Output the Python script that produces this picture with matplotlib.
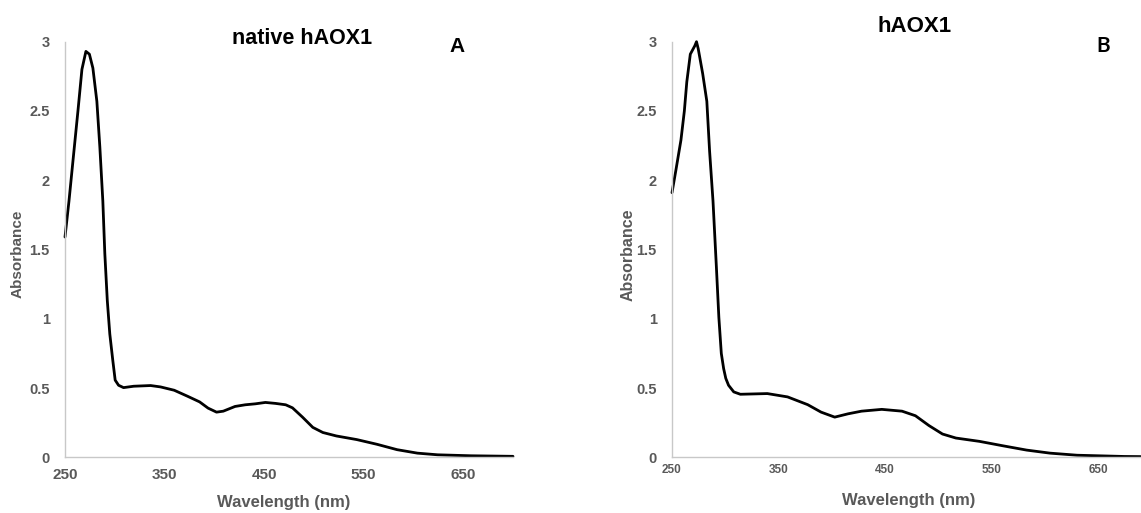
import numpy as np
import matplotlib
matplotlib.use("Agg")
import matplotlib.pyplot as plt

plt.rcParams['font.family'] = ['Liberation Sans', 'DejaVu Sans']

wl_native = [250, 254, 258, 263, 267, 271, 274.5, 278, 282, 285, 288, 290, 292.5, 295,
             298, 300.4, 303.8, 308.8, 319, 336, 346, 359.7, 373.3, 385.2, 393.7, 402.2,
             409, 420.8, 431, 441.2, 451.3, 461.5, 471.7, 478.5, 488.7, 498.9, 509,
             522.6, 543, 563.3, 583.6, 604, 624.3, 658, 700]
abs_native = [1.59, 1.85, 2.14, 2.50, 2.80, 2.93, 2.91, 2.81, 2.57, 2.24, 1.85, 1.47, 1.13, 0.89,
              0.70, 0.557, 0.52, 0.503, 0.513, 0.518, 0.508, 0.484, 0.44, 0.40, 0.355, 0.326,
              0.333, 0.367, 0.379, 0.386, 0.396, 0.389, 0.379, 0.357, 0.289, 0.216, 0.179,
              0.154, 0.128, 0.094, 0.055, 0.030, 0.018, 0.011, 0.007]

wl_haox = [250, 253.6, 258.4, 261.6, 263.9, 267.2, 271.4, 273, 274.6, 278.8, 282.7, 285.3,
           288.5, 291.7, 294, 296.3, 298.5, 300.5, 303.1, 308, 314.2, 339.5, 358.5, 377.4,
           390, 402.8, 415.4, 428, 447, 466, 478.6, 491.3, 504, 516.6, 538.7, 560.8,
           583, 605, 630.4, 674.6, 690]
abs_haox = [1.91, 2.07, 2.29, 2.50, 2.71, 2.91, 2.97, 3.0, 2.95, 2.77, 2.57, 2.21,
            1.85, 1.37, 1.01, 0.75, 0.64, 0.57, 0.52, 0.472, 0.455, 0.46, 0.436, 0.38,
            0.326, 0.29, 0.314, 0.333, 0.346, 0.333, 0.30, 0.229, 0.168, 0.139, 0.115, 0.083,
            0.052, 0.030, 0.015, 0.006, 0.005]

xticks = [250, 350, 450, 550, 650]
yticks = [0, 0.5, 1, 1.5, 2, 2.5, 3]
ytick_labels = ["0", "0.5", "1", "1.5", "2", "2.5", "3"]

W, H = 1141, 513
gris = '#595959'

fig = plt.figure(figsize=(W / 100, H / 100), dpi=100)


def px(x, y):
    return x / W, 1 - y / H


def panel(rect, wl, ab, xmax, xsize, xpad):
    ax = fig.add_axes(rect)
    ax.plot(wl, ab, color='black', lw=2.0, clip_on=False,
            solid_joinstyle='round', solid_capstyle='round')
    ax.set_xlim(250, xmax)
    ax.set_ylim(0, 3)
    ax.set_xticks(xticks)
    ax.set_yticks(yticks)
    ax.set_yticklabels(ytick_labels)
    for s in ['top', 'right']:
        ax.spines[s].set_visible(False)
    for s in ['left', 'bottom']:
        ax.spines[s].set_color('#c8c8c8')
        ax.spines[s].set_linewidth(1.0)
    ax.tick_params(axis='x', length=0, pad=xpad, labelsize=xsize, labelcolor=gris)
    ax.tick_params(axis='y', length=0, pad=11, labelsize=10.5, labelcolor=gris)
    for t in ax.get_xticklabels() + ax.get_yticklabels():
        t.set_fontweight('bold')
    return ax


axA = panel([65 / W, 1 - 457.3 / H, 448 / W, 415.6 / H],
            wl_native, abs_native, 700, 11, 8)
axB = panel([672 / W, 1 - 457.3 / H, 469 / W, 415.6 / H],
            wl_haox, abs_haox, 690.4, 8.5, 5)

# rotulos de los ejes
for (x, y) in [(284, 503), (909, 501)]:
    fig.text(*px(x, y), "Wavelength (nm)", ha='center', va='center',
             fontsize=12, fontweight='bold', color=gris)
fig.text(*px(18, 254), "Absorbance", ha='center', va='center', rotation=90,
         fontsize=11, fontweight='bold', color=gris)
fig.text(*px(628, 255), "Absorbance", ha='center', va='center', rotation=90,
         fontsize=11.5, fontweight='bold', color=gris)

# titulos y letras de panel
fig.text(*px(301.7, 39), "native hAOX1", ha='center', va='center',
         fontsize=15.5, fontweight='bold', color='black')
fig.text(*px(457, 47), "A", ha='center', va='center',
         fontsize=15, fontweight='bold', color='black')
fig.text(*px(915, 26.5), "hAOX1", ha='center', va='center',
         fontsize=16, fontweight='bold', color='black')
fig.text(*px(1103, 46), "B", ha='center', va='center', family=['Lato', 'DejaVu Sans'],
         fontsize=15, fontweight='bold', color='black')

fig.savefig('out.png', dpi=100)
